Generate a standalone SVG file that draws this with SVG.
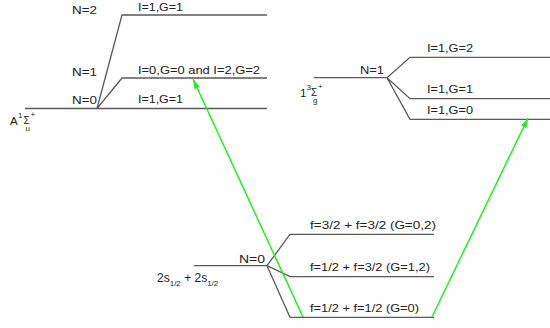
<svg xmlns="http://www.w3.org/2000/svg" width="550" height="328" viewBox="0 0 550 328">
<style>
.lv{stroke:#5a5a5a;stroke-width:1.3;fill:none}
.t{font-family:"Liberation Sans",Arial,sans-serif;font-size:11.5px;fill:#222}
.s{font-family:"Liberation Sans",Arial,sans-serif;font-size:8px;fill:#222}
.g{font-family:"Liberation Sans",Arial,sans-serif;font-size:10px;fill:#222}
.ar{stroke:#22ee22;stroke-width:1.5;fill:none}
</style>
<defs>
<marker id="ah" viewBox="0 0 10 6" refX="10" refY="3" markerWidth="10" markerHeight="6" markerUnits="userSpaceOnUse" orient="auto">
<path d="M0,0 L10,3 L0,6 Z" fill="#22ee22"/>
</marker>
</defs>
<rect width="550" height="328" fill="#ffffff"/>
<g id="state-A">
<path class="lv" d="M25,108.5 H267 M97,108.5 L122,15 H267 M97,108.5 L122,78 H267"/>
<text class="t" x="10" y="125">A</text>
<text class="s" x="18" y="118">1</text>
<text class="g" x="23.5" y="124">Σ</text>
<text class="s" x="30.5" y="117">+</text>
<text class="s" x="25.5" y="131">u</text>
<text class="t" x="72" y="14" textLength="25" lengthAdjust="spacingAndGlyphs">N=2</text>
<text class="t" x="72" y="76" textLength="25" lengthAdjust="spacingAndGlyphs">N=1</text>
<text class="t" x="72" y="104" textLength="25" lengthAdjust="spacingAndGlyphs">N=0</text>
<text class="t" x="138" y="11" textLength="45" lengthAdjust="spacingAndGlyphs">I=1,G=1</text>
<text class="t" x="138" y="74" textLength="122" lengthAdjust="spacingAndGlyphs">I=0,G=0 and I=2,G=2</text>
<text class="t" x="138" y="103" textLength="45" lengthAdjust="spacingAndGlyphs">I=1,G=1</text>
</g>
<g id="state-1Sg">
<path class="lv" d="M314,77.7 H387 M387,77.7 L410,57.3 H550 M387,77.7 L410,98.7 H550 M387,77.7 L410,119.3 H550"/>
<text class="t" x="300" y="97">1</text>
<text class="s" x="306.5" y="90">3</text>
<text class="g" x="311" y="96">Σ</text>
<text class="s" x="318" y="89">+</text>
<text class="s" x="313" y="103">g</text>
<text class="t" x="360" y="74" textLength="24" lengthAdjust="spacingAndGlyphs">N=1</text>
<text class="t" x="427" y="52" textLength="46" lengthAdjust="spacingAndGlyphs">I=1,G=2</text>
<text class="t" x="427" y="93" textLength="46" lengthAdjust="spacingAndGlyphs">I=1,G=1</text>
<text class="t" x="427" y="114" textLength="46" lengthAdjust="spacingAndGlyphs">I=1,G=0</text>
</g>
<g id="state-2s">
<path class="lv" d="M194,265.7 H267 M267,265.7 L290,234.3 H434 M267,265.7 L290,276.7 H434 M267,265.7 L290,317.3 H434"/>
<text class="t" x="157" y="282" style="font-size:12px">2s<tspan class="s" dy="4">1/2</tspan><tspan dy="-4"> + 2s</tspan><tspan class="s" dy="4">1/2</tspan></text>
<text class="t" x="239" y="263" textLength="26" lengthAdjust="spacingAndGlyphs">N=0</text>
<text class="t" x="310" y="229" textLength="126" lengthAdjust="spacingAndGlyphs">f=3/2 + f=3/2 (G=0,2)</text>
<text class="t" x="310" y="271" textLength="120" lengthAdjust="spacingAndGlyphs">f=1/2 + f=3/2 (G=1,2)</text>
<text class="t" x="310" y="312" textLength="109" lengthAdjust="spacingAndGlyphs">f=1/2 + f=1/2 (G=0)</text>
</g>
<g id="connectors">
<line class="ar" x1="303" y1="317" x2="193" y2="79" marker-end="url(#ah)"/>
<line class="ar" x1="432" y1="317" x2="528" y2="118" marker-end="url(#ah)"/>
</g>
</svg>
